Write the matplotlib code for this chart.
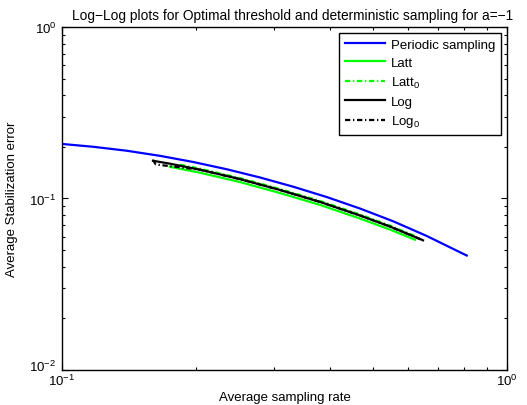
import matplotlib
matplotlib.use("Agg")
import matplotlib.pyplot as plt
from matplotlib.ticker import NullFormatter
from matplotlib.transforms import ScaledTranslation

plt.rcParams['font.family'] = ['Liberation Sans', 'DejaVu Sans']
plt.rcParams['mathtext.fontset'] = 'custom'
plt.rcParams['mathtext.rm'] = 'Liberation Sans'
plt.rcParams['mathtext.it'] = 'Liberation Sans:italic'
plt.rcParams['mathtext.bf'] = 'Liberation Sans:bold'
plt.rcParams['mathtext.default'] = 'regular'

# Average sampling rate vs. average stabilization error
periodic_rate = [0.1007, 0.1176, 0.1398, 0.1661, 0.1973, 0.2345, 0.2786,
                 0.3310, 0.3934, 0.4674, 0.5553, 0.6598, 0.8119]
periodic_err = [0.2077, 0.2002, 0.1899, 0.1773, 0.1632, 0.1481, 0.1326,
                0.1171, 0.1020, 0.0874, 0.0736, 0.0605, 0.0465]

latt_rate = [0.1748, 0.2042, 0.2512, 0.3090, 0.3800, 0.4674, 0.5459, 0.6213]
latt_err = [0.1532, 0.1414, 0.1247, 0.1076, 0.0918, 0.0764, 0.0659, 0.0575]

latt0_rate = [0.1842, 0.2042, 0.2512, 0.3090, 0.3800, 0.4674, 0.5459, 0.6213]
latt0_err = [0.1575, 0.1492, 0.1315, 0.1136, 0.0968, 0.0807, 0.0695, 0.0604]

log_rate = [0.1601, 0.1748, 0.2042, 0.2512, 0.3090, 0.3800, 0.4674, 0.5459, 0.6442]
log_err = [0.1660, 0.1596, 0.1472, 0.1297, 0.1121, 0.0955, 0.0796, 0.0686, 0.0574]

log0_rate = [0.1601, 0.1625, 0.2042, 0.2512, 0.3090, 0.3800, 0.4674, 0.5459, 0.6510]
log0_err = [0.1677, 0.1579, 0.1472, 0.1297, 0.1121, 0.0955, 0.0796, 0.0686, 0.0567]

x_limits = (0.1, 1.0)
y_limits = (0.01, 1.0)

title = "Log\u2212Log plots for Optimal threshold and deterministic sampling for a=\u22121"

fig = plt.figure(figsize=(5.27, 4.06), dpi=100)
ax = fig.add_axes([0.11765, 0.08621, 0.8444, 0.84483])

lw = 1.6
dashdot = (2.4, 1.2, 0.6, 1.2)
ax.plot(periodic_rate, periodic_err, color=(0, 0, 1), lw=lw, label="Periodic sampling")
ax.plot(latt_rate, latt_err, color=(0, 1, 0), lw=lw, label="Latt")
ax.plot(latt0_rate, latt0_err, color=(0, 1, 0), lw=lw, dashes=dashdot, label="Latt$_0$")
ax.plot(log_rate, log_err, color='black', lw=lw, label="Log")
ax.plot(log0_rate, log0_err, color='black', lw=lw, dashes=dashdot, label="Log$_0$")

ax.set_xscale('log')
ax.set_yscale('log')
ax.set_xlim(*x_limits)
ax.set_ylim(*y_limits)
ax.xaxis.set_minor_formatter(NullFormatter())
ax.yaxis.set_minor_formatter(NullFormatter())

ax.tick_params(which='both', direction='in', top=True, right=True,
               labelsize=9.5, width=0.8)
ax.tick_params(which='major', length=4)
ax.tick_params(which='minor', length=2)
ax.tick_params(axis='x', which='major', pad=2)
ax.tick_params(axis='y', which='major', pad=4)
for s in ax.spines.values():
    s.set_linewidth(1.0)

ax.set_xlabel("Average sampling rate", fontsize=9.5, labelpad=2)
ax.set_ylabel("Average Stabilization error", fontsize=9.5, labelpad=8)
ax.set_title(title, fontsize=9.9, pad=6, x=0.517)

leg = ax.legend(loc='upper right', fontsize=9.5, frameon=True, fancybox=False,
                framealpha=1, edgecolor='black', borderaxespad=0.45,
                handlelength=3.0, handletextpad=0.45, labelspacing=0.43,
                borderpad=0.45)
leg.get_frame().set_linewidth(1.0)

# lift the bottom y tick label so it clears the first x tick label
fig.canvas.draw()
for tick in ax.yaxis.get_major_ticks():
    if abs(tick.get_loc() - y_limits[0]) < 1e-12:
        tick.label1.set_transform(tick.label1.get_transform()
                                  + ScaledTranslation(0, 4 / 72, fig.dpi_scale_trans))

fig.savefig("out.png", dpi=100)
